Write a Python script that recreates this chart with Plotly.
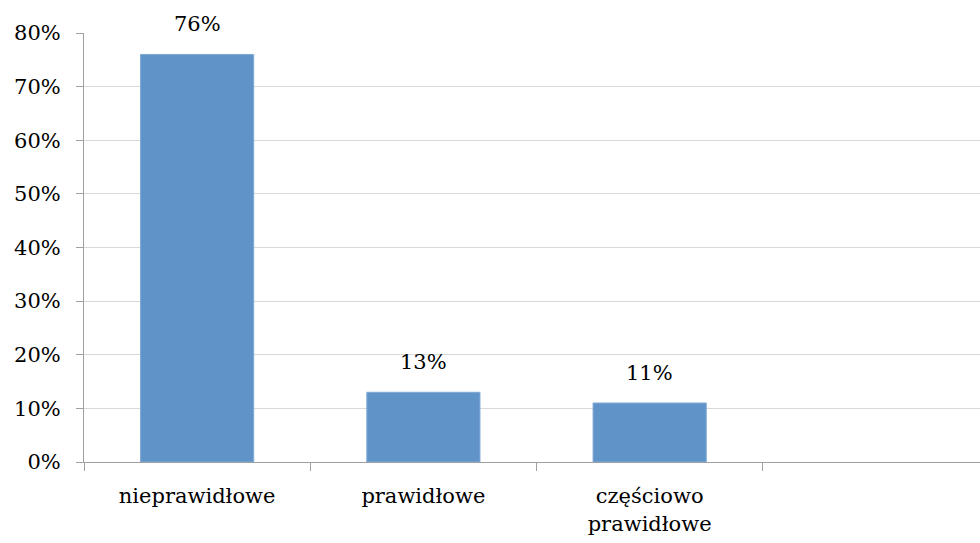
import plotly.graph_objects as go

categories = ["nieprawidłowe", "prawidłowe", "częściowo<br>prawidłowe"]
values = [76, 13, 11]
y_ticks = [0, 10, 20, 30, 40, 50, 60, 70, 80]
y_tick_labels = [f"{v}%" for v in y_ticks]

font_family = "DejaVu Serif"
font_size = 21

fig = go.Figure(
    go.Bar(
        x=categories,
        y=values,
        width=0.5,
        marker=dict(color="#6094C9", line=dict(color="#7FA8D6", width=1)),
        hoverinfo="skip",
    )
)

# value labels above each bar
for cat, val in zip(categories, values):
    fig.add_annotation(
        x=cat, y=val, text=f"{val}%", showarrow=False,
        yanchor="bottom", yshift=16,
        font=dict(family=font_family, size=font_size, color="black"),
    )

fig.update_layout(
    width=980, height=543,
    margin=dict(l=84, r=0, t=33, b=81, autoexpand=False),
    paper_bgcolor="white", plot_bgcolor="white",
    showlegend=False,
    font=dict(family=font_family, size=font_size, color="black"),
    bargap=0.5,
)
fig.update_xaxes(
    range=[-0.5, 3.46],
    tickson="boundaries",
    ticks="outside", ticklen=8, tickcolor="#A0A0A0", tickwidth=1,
    showline=True, linecolor="#A0A0A0", linewidth=1,
    showgrid=False, automargin=False,
    ticklabelstandoff=15,
    tickfont=dict(family=font_family, size=font_size, color="black"),
)
fig.update_yaxes(
    range=[0, 80],
    tickvals=y_ticks, ticktext=y_tick_labels,
    ticks="outside", ticklen=7, tickcolor="#A0A0A0", tickwidth=1,
    showline=True, linecolor="#A0A0A0", linewidth=1,
    showgrid=True, gridcolor="#D9D9D9", gridwidth=1,
    zeroline=False, automargin=False,
    ticklabelstandoff=11,
    tickfont=dict(family=font_family, size=font_size, color="black"),
)

fig.write_html("out.html")
